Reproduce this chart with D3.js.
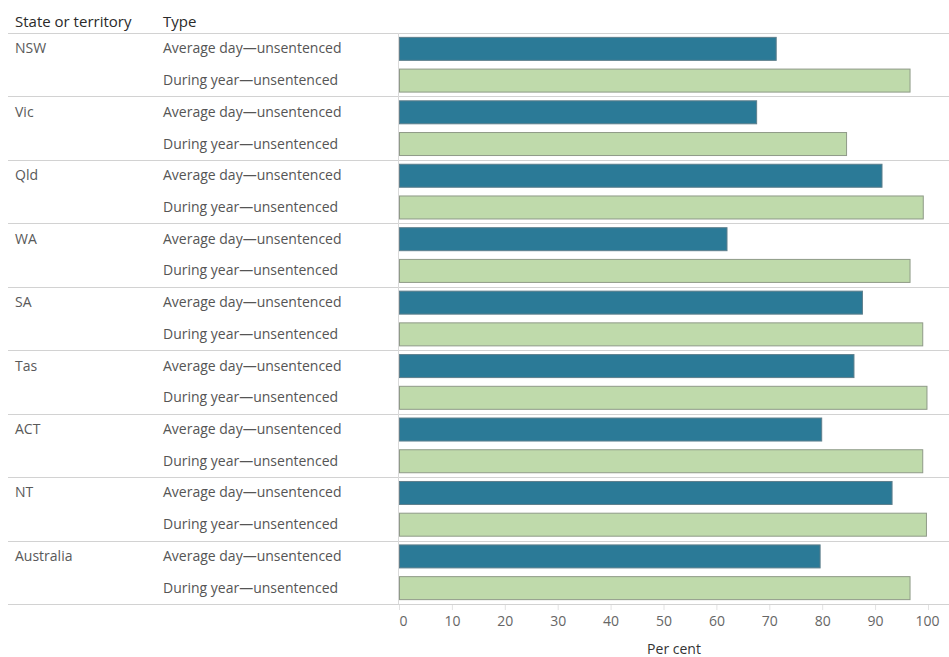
<!DOCTYPE html>
<html>
<head>
<meta charset="utf-8">
<script src="https://cdn.jsdelivr.net/npm/d3@7"></script>
<style>
  html, body { margin: 0; padding: 0; background: #fff; }
  svg { display: block; font-family: "Open Sans", "Noto Sans", sans-serif; }
</style>
</head>
<body>
<svg id="chart" width="949" height="657"></svg>
<script>
const states = ["NSW", "Vic", "Qld", "WA", "SA", "Tas", "ACT", "NT", "Australia"];
const types = ["Average day\u2014unsentenced", "During year\u2014unsentenced"];
const averageDay = [71.4, 67.7, 91.4, 62.1, 87.7, 86.1, 80.0, 93.3, 79.7];
const duringYear = [96.7, 84.7, 99.2, 96.7, 99.1, 99.9, 99.1, 99.8, 96.7];
const xTicks = [0, 10, 20, 30, 40, 50, 60, 70, 80, 90, 100];
const colors = ["#2b7a97", "#bfdaab"];

(function () {
const svg = d3.select("#chart");
const W = 949;
const yTop = 33, yBottom = 604, paneLeft = 399, paneRight = 928;

const rows = [];
states.forEach((s, i) => {
  rows.push({ state: s, type: types[0], value: averageDay[i], k: 0, key: s + "|0" });
  rows.push({ state: s, type: types[1], value: duringYear[i], k: 1, key: s + "|1" });
});

const x = d3.scaleLinear().domain([0, 100]).range([paneLeft, paneRight]);
const yGroup = d3.scaleBand().domain(states).range([yTop, yBottom]);
const yRow = d3.scaleBand().domain(rows.map(r => r.key)).range([yTop, yBottom]);
const barH = 24;

// headers
svg.append("text").attr("x", 15).attr("y", 27).attr("fill", "#2a2a2a")
  .style("font-size", "15px").text("State or territory");
svg.append("text").attr("x", 163).attr("y", 27).attr("fill", "#2a2a2a")
  .style("font-size", "15px").text("Type");

// group separator lines
svg.append("line").attr("x1", 8).attr("x2", W).attr("y1", yTop + 0.5).attr("y2", yTop + 0.5)
  .attr("stroke", "#d2d2d2");
states.forEach(s => {
  const yb = Math.round(yGroup(s) + yGroup.bandwidth()) + 0.5;
  svg.append("line").attr("x1", 8).attr("x2", W).attr("y1", yb).attr("y2", yb)
    .attr("stroke", "#d2d2d2");
});

// pane left border
svg.append("line").attr("x1", paneLeft - 0.5).attr("x2", paneLeft - 0.5)
  .attr("y1", yTop).attr("y2", yBottom).attr("stroke", "#d9d9d9");

// state labels
svg.append("g").selectAll("text").data(states).join("text")
  .attr("x", 15).attr("y", s => yGroup(s) + yGroup.bandwidth() / 4 + 4.5)
  .attr("fill", "#595959").style("font-size", "14px").text(s => s);

// type labels
svg.append("g").selectAll("text").data(rows).join("text")
  .attr("x", 163).attr("y", r => yRow(r.key) + yRow.bandwidth() / 2 + 4.5)
  .attr("fill", "#555").style("font-size", "14px").text(r => r.type);

// bars
svg.append("g").selectAll("rect").data(rows).join("rect")
  .attr("x", x(0) + 0.5)
  .attr("y", r => yRow(r.key) + (yRow.bandwidth() - barH) / 2 + 0.5)
  .attr("width", r => x(r.value) - x(0) - 1)
  .attr("height", barH - 1)
  .attr("fill", r => colors[r.k])
  .attr("stroke", r => r.k === 0 ? "#5e7f8c" : "#8f9a88")
  .attr("stroke-width", 1);

// x axis
const axis = d3.axisBottom(x).tickValues(xTicks).tickSize(5).tickPadding(6);
const gx = svg.append("g").attr("transform", `translate(0,${yBottom + 1})`).call(axis);
gx.select(".domain").remove();
gx.selectAll(".tick line").attr("stroke", "#e2e2e2");
gx.selectAll(".tick text").attr("fill", "#666").style("font-size", "14px")
  .style("font-family", "'Open Sans', sans-serif")
  .attr("dx", d => d === 0 ? 4 : (d === 100 ? -1 : 0));

svg.append("text").attr("x", (paneLeft + W) / 2).attr("y", 654)
  .attr("text-anchor", "middle").attr("fill", "#333").style("font-size", "14px")
  .text("Per cent");
})();
</script>
</body>
</html>
